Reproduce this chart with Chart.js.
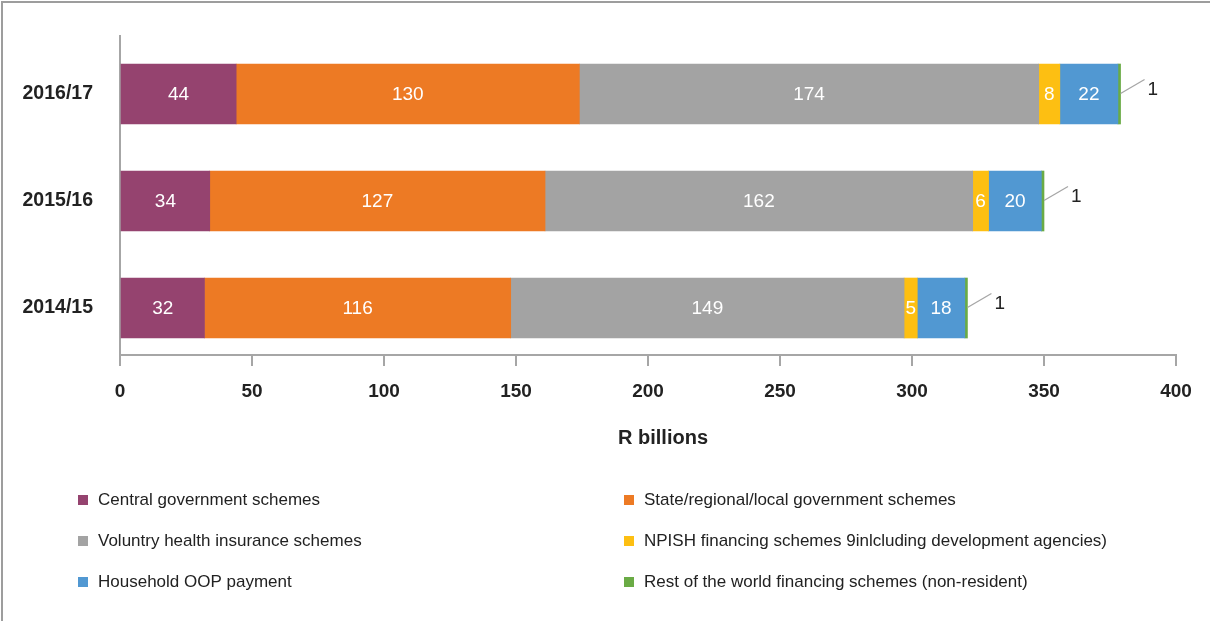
<!DOCTYPE html>
<html>
<head>
<meta charset="utf-8">
<title>Health financing schemes, R billions</title>
<script src="https://cdn.jsdelivr.net/npm/chart.js@4/dist/chart.umd.min.js"></script>
<style>
  html, body { margin: 0; padding: 0; background: #ffffff; }
  #wrap { position: relative; width: 1210px; height: 621px; overflow: hidden; }
  #wrap canvas { position: absolute; left: 0; top: 0; }
  #frame {
    position: absolute; left: 1px; top: 1px; right: -10px; bottom: -10px;
    border-left: 2px solid #9d9d9d; border-top: 2px solid #9d9d9d;
    pointer-events: none;
  }
</style>
</head>
<body>
<div id="wrap">
  <canvas id="chart" width="1210" height="621"></canvas>
  <div id="frame"></div>
</div>
<script>
// Financial years, top to bottom
const categories = ['2016/17', '2015/16', '2014/15'];

// Spending per financing scheme, R billions
const centralGovernment = [44, 34, 32];
const stateRegionalLocal = [130, 127, 116];
const voluntaryInsurance = [174, 162, 149];
const npishSchemes = [8, 6, 5];
const householdOop = [22, 20, 18];
const restOfWorld = [1, 1, 1];

const seriesNames = [
  'Central government schemes',
  'State/regional/local government schemes',
  'Voluntry health insurance schemes',
  'NPISH financing schemes 9inlcluding development agencies)',
  'Household OOP payment',
  'Rest of the world financing schemes (non-resident)'
];
const seriesValues = [centralGovernment, stateRegionalLocal, voluntaryInsurance, npishSchemes, householdOop, restOfWorld];
const seriesColors = ['#95436f', '#ed7a24', '#a3a3a3', '#fdbf12', '#5198d2', '#6aab45'];

// Value axis tick values
const xTickValues = [0, 50, 100, 150, 200, 250, 300, 350, 400];
const axisTitle = 'R billions';

const TEXT = '#222222';
const AXIS = '#a6a6a6';
const FONT = 'Arial, "Liberation Sans", Helvetica, sans-serif';

const datasets = seriesValues.map((vals, s) => ({
  label: seriesNames[s],
  data: vals.map((v, i) => ({ x: v, y: i })),
  backgroundColor: seriesColors[s],
  borderWidth: 0,
  barThickness: 60
}));

// Segment values inside the bars; the thin last segment gets a leader line
const valueLabels = {
  id: 'valueLabels',
  afterDatasetsDraw(chart) {
    const ctx = chart.ctx;
    const last = chart.data.datasets.length - 1;
    ctx.save();
    ctx.font = '19px ' + FONT;
    ctx.textBaseline = 'middle';
    chart.data.datasets.forEach((ds, di) => {
      const meta = chart.getDatasetMeta(di);
      meta.data.forEach((bar, i) => {
        const v = ds.data[i].x;
        if (di === last) {
          const x0 = bar.x, y0 = bar.y;
          ctx.strokeStyle = AXIS;
          ctx.lineWidth = 1.3;
          ctx.beginPath();
          ctx.moveTo(x0, y0 - 0.5);
          ctx.lineTo(x0 + 24, y0 - 14.5);
          ctx.stroke();
          ctx.fillStyle = TEXT;
          ctx.textAlign = 'left';
          ctx.fillText(String(v), x0 + 27, y0 - 4);
        } else {
          ctx.fillStyle = '#ffffff';
          ctx.textAlign = 'center';
          ctx.fillText(String(v), (bar.x + bar.base) / 2, bar.y + 1);
        }
      });
    });
    ctx.restore();
  }
};

// Two-column legend below the axis, plus the axis title
const gridLegend = {
  id: 'gridLegend',
  afterDraw(chart) {
    const ctx = chart.ctx;
    ctx.save();
    ctx.fillStyle = TEXT;
    ctx.font = 'bold 20px ' + FONT;
    ctx.textAlign = 'center';
    ctx.textBaseline = 'middle';
    ctx.fillText(axisTitle, 663, 438);

    const colX = [78, 624];
    const rowY = [500, 541, 582];
    ctx.font = '17px ' + FONT;
    ctx.textAlign = 'left';
    chart.data.datasets.forEach((ds, i) => {
      const x = colX[i % 2];
      const y = rowY[Math.floor(i / 2)];
      ctx.fillStyle = ds.backgroundColor;
      ctx.fillRect(x, y - 5, 10, 10);
      ctx.fillStyle = TEXT;
      ctx.fillText(ds.label, x + 20, y);
    });
    ctx.restore();
  }
};

new Chart(document.getElementById('chart'), {
  type: 'bar',
  data: { datasets },
  options: {
    indexAxis: 'y',
    responsive: false,
    animation: false,
    events: [],
    layout: { padding: { top: 36, right: 34, left: 0, bottom: 0 } },
    plugins: {
      legend: { display: false },
      tooltip: { enabled: false }
    },
    scales: {
      x: {
        type: 'linear',
        stacked: true,
        min: 0,
        max: 400,
        afterBuildTicks(scale) { scale.ticks = xTickValues.map(v => ({ value: v })); },
        afterFit(scale) { scale.height = 266; },
        grid: {
          display: true,
          drawOnChartArea: false,
          drawTicks: true,
          tickLength: 11,
          color: AXIS,
          lineWidth: 2
        },
        border: { display: true, color: AXIS, width: 2 },
        ticks: {
          padding: 14,
          color: TEXT,
          font: { family: FONT, size: 19, weight: 'bold' },
          maxRotation: 0
        }
      },
      y: {
        type: 'linear',
        stacked: true,
        reverse: true,
        offset: false,
        min: -0.542,
        max: 2.439,
        afterBuildTicks(scale) { scale.ticks = categories.map((_, i) => ({ value: i })); },
        afterFit(scale) {
          scale.width = 120;
          // labels sit well inside the axis, so no extra vertical room is needed
          scale.paddingTop = 0;
          scale.paddingBottom = 0;
        },
        grid: { display: false, drawTicks: false, offset: false },
        border: { display: true, color: AXIS, width: 2 },
        ticks: {
          padding: 27,
          color: TEXT,
          font: { family: FONT, size: 19.5, weight: 'bold' },
          callback: (v) => categories[v]
        }
      }
    }
  },
  plugins: [valueLabels, gridLegend]
});
</script>
</body>
</html>
